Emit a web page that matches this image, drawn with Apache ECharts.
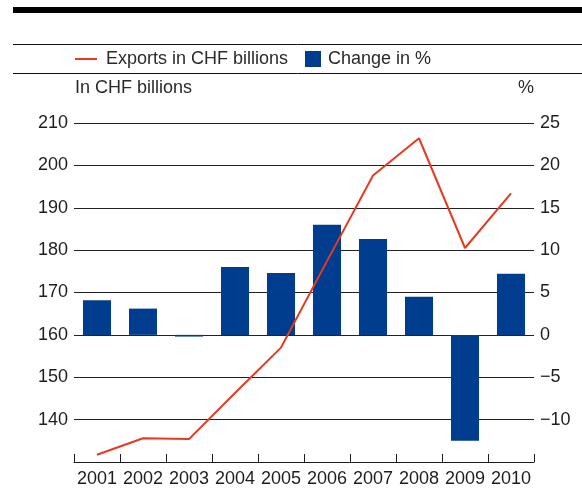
<!DOCTYPE html>
<html>
<head>
<meta charset="utf-8">
<script src="https://cdn.jsdelivr.net/npm/echarts@6/dist/echarts.min.js"></script>
<style>
  html, body { margin: 0; padding: 0; background: #fff; }
  #chart { width: 582px; height: 488px; }
</style>
</head>
<body>
<div id="chart"></div>
<script>
// Swiss exports 2001–2010: level (CHF bn, left axis) and annual change (%, right axis)
const years = ['2001', '2002', '2003', '2004', '2005', '2006', '2007', '2008', '2009', '2010'];
const exportsChf = [131.7, 135.6, 135.4, 146.3, 157.0, 177.4, 197.6, 206.4, 180.5, 193.4];
const changePct = [4.1, 3.1, -0.2, 8.0, 7.3, 13.0, 11.3, 4.5, -12.5, 7.2];
const leftTicks = { min: 130, max: 210, interval: 10 };
const rightTicks = { min: -15, max: 25, interval: 5 };

const RED = '#e63a1f';
const BLUE = '#003d8e';
const INK = '#1e1e1e';
const FONT = '"Liberation Sans", Arial, sans-serif';

const chart = echarts.init(document.getElementById('chart'), null, { renderer: 'canvas' });

const minusSign = v => String(v).replace('-', '\u2212');

chart.setOption({
  animation: false,
  backgroundColor: '#fff',
  textStyle: { fontFamily: FONT, color: INK },
  grid: { left: 74, right: 48, top: 123, height: 340, containLabel: false },
  legend: [
    {
      left: 75, top: 50, padding: 0, itemWidth: 22, itemHeight: 16,
      data: [{
        name: 'Exports in CHF billions',
        icon: 'path://M0,0 H22 V2 H0 Z',
        itemStyle: { color: RED, borderWidth: 0 }
      }],
      textStyle: { fontSize: 18, color: '#2a2a2a', fontFamily: FONT, padding: [0, 0, 0, 4] },
      selectedMode: false
    },
    {
      left: 305, top: 50, padding: 0, itemWidth: 16, itemHeight: 16,
      data: [{ name: 'Change in %', icon: 'rect' }],
      textStyle: { fontSize: 18, color: '#2a2a2a', fontFamily: FONT, padding: [0, 0, 0, 2] },
      selectedMode: false
    }
  ],
  xAxis: {
    type: 'category',
    data: years,
    boundaryGap: true,
    axisLine: { show: true, onZero: false, lineStyle: { color: INK, width: 1 } },
    axisTick: { show: true, inside: true, length: 8, interval: 0, alignWithLabel: false, lineStyle: { color: INK, width: 1 } },
    axisLabel: { fontSize: 18, color: INK, margin: 8, interval: 0, fontFamily: FONT },
    splitLine: { show: false }
  },
  yAxis: [
    {
      type: 'value',
      position: 'left',
      min: leftTicks.min, max: leftTicks.max, interval: leftTicks.interval,
      axisLine: { show: false },
      axisTick: { show: false },
      axisLabel: {
        fontSize: 18, color: INK, margin: 6, fontFamily: FONT,
        formatter: v => (v === leftTicks.min ? '' : minusSign(v))
      },
      splitLine: { show: true, lineStyle: { color: '#222', width: 1 } }
    },
    {
      type: 'value',
      position: 'right',
      min: rightTicks.min, max: rightTicks.max, interval: rightTicks.interval,
      axisLine: { show: false },
      axisTick: { show: false },
      axisLabel: {
        fontSize: 18, color: INK, margin: 6, fontFamily: FONT,
        formatter: v => (v === rightTicks.min ? '' : minusSign(v))
      },
      splitLine: { show: false }
    }
  ],
  series: [
    {
      name: 'Change in %',
      type: 'bar',
      yAxisIndex: 1,
      data: changePct,
      barCategoryGap: '39%',
      itemStyle: { color: BLUE },
      z: 2
    },
    {
      name: 'Exports in CHF billions',
      type: 'line',
      yAxisIndex: 0,
      data: exportsChf,
      symbol: 'none',
      showSymbol: false,
      lineStyle: { color: RED, width: 2 },
      itemStyle: { color: RED },
      z: 3
    }
  ],
  graphic: [
    // heavy rule under the heading
    { type: 'rect', left: 13, top: 7, shape: { width: 569, height: 6 }, style: { fill: '#000' } },
    // thin rules framing the legend band
    { type: 'line', shape: { x1: 13, y1: 44.5, x2: 582, y2: 44.5 }, style: { stroke: '#111', lineWidth: 1 } },
    { type: 'line', shape: { x1: 13, y1: 73.5, x2: 582, y2: 73.5 }, style: { stroke: '#111', lineWidth: 1 } },
    // axis captions
    { type: 'text', left: 75, top: 79, style: { text: 'In CHF billions', fontSize: 18, fill: '#2a2a2a', fontFamily: FONT } },
    { type: 'text', left: 518, top: 79, style: { text: '%', fontSize: 18, fill: '#2a2a2a', fontFamily: FONT } }
  ]
});
</script>
</body>
</html>
